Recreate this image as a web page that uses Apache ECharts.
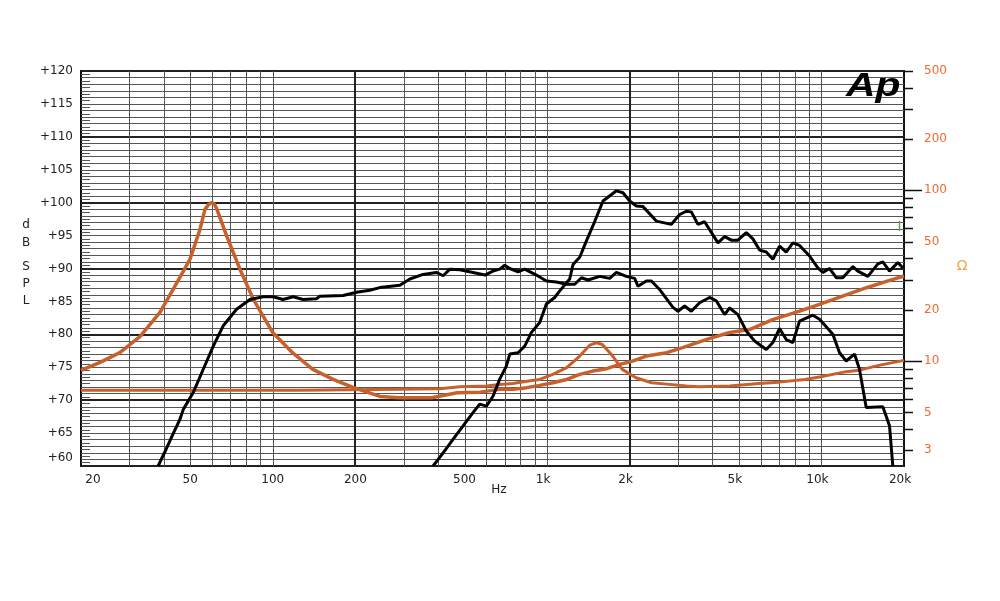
<!DOCTYPE html>
<html>
<head>
<meta charset="utf-8">
<script src="https://cdn.jsdelivr.net/npm/echarts@6/dist/echarts.min.js"></script>
<style>
html,body{margin:0;padding:0;background:#fff;}
#c{width:1000px;height:601px;}
</style>
</head>
<body>
<div id="c"></div>
<script>
// ---- data (frequency Hz, value) ----
const splWoofer = [[38.2,60],[40.5,62.2],[42.9,64.5],[45.9,67.1],[47.2,68.6],[51.3,71.15],[55.8,74.7],[60.7,78.2],[66,81.3],[73.8,83.8],[82.6,85.3],[92.3,85.7],[100.4,85.7],[109,85.3],[118.7,85.7],[129,85.3],[144.4,85.4],[148.5,85.8],[180.6,85.9],[202,86.4],[225.8,86.7],[245.6,87.1],[290.6,87.45],[316,88.4],[353,89.1],[395,89.4],[418,88.9],[442,89.9],[481,89.8],[537,89.4],[593,89.0],[635,89.6],[672,89.9],[701,90.5],[731,90.0],[784,89.5],[829,89.9],[914,89.0],[994,88.1],[1081,87.95],[1176,87.6],[1261,87.6],[1334,88.6],[1410,88.25],[1555,88.8],[1691,88.5],[1789,89.4],[1945,88.8],[2086,88.5],[2144,87.3],[2301,88.1],[2400,88.1],[2573,86.8],[2876,84.1],[3000,83.5],[3173,84.3],[3356,83.5],[3597,84.8],[3912,85.6],[4137,85.1],[4438,83.0],[4628,84.0],[4960,83.0],[5322,80.5],[5707,79.0],[6295,77.7],[6654,78.75],[7038,80.9],[7443,79.2],[7869,78.75],[8322,82.0],[9306,82.9],[9843,82.3],[11008,80.0],[11641,77.2],[12313,75.95],[13202,77.0],[13766,74.7],[14564,68.9],[16744,69.0],[17712,66.1],[18208,60]];
const splDriver = [[384,60],[418,62.0],[454,64.05],[494,66.1],[537,68.1],[568,69.4],[601,69.1],[635,70.6],[672,73.2],[711,75.2],[731,77.0],[784,77.2],[829,78.2],[877,80.3],[940,81.8],[994,84.6],[1066,85.6],[1112,86.6],[1209,88.4],[1243,90.6],[1315,91.7],[1391,94.2],[1470,96.5],[1599,100.25],[1789,101.8],[1891,101.5],[2000,100.25],[2116,99.5],[2237,99.4],[2502,97.2],[2838,96.7],[3042,98.2],[3217,98.7],[3356,98.6],[3547,96.7],[3751,97.1],[4195,93.9],[4438,94.85],[4693,94.3],[4960,94.3],[5322,95.45],[5626,94.5],[5951,92.8],[6295,92.5],[6654,91.4],[7038,93.4],[7443,92.5],[7869,93.9],[8322,93.5],[9052,91.9],[9704,90.1],[10121,89.4],[10706,90.0],[11324,88.6],[11968,88.6],[13020,90.3],[13575,89.6],[14766,88.8],[16058,90.7],[16744,91.0],[17712,89.6],[18987,90.9],[19800,90.1]];
// impedance (ohm)
const impWoofer = [[20,8.82],[23.5,9.83],[27.7,11.2],[32.8,13.9],[38.8,19.3],[44.8,28.9],[49.9,39.4],[54.3,59.1],[56.6,77.4],[58.5,83],[60,85],[61.3,83],[62.6,77.4],[68,53.8],[76,34.4],[85,23],[100,14.7],[118,11.2],[140,8.94],[166,7.81],[196,7.01],[246,6.21],[290,6.1],[380,6.1],[470,6.53],[570,6.58],[672,6.83],[750,6.83],[843,6.99],[940,7.21],[1050,7.47],[1180,7.81],[1315,8.36],[1467,8.74],[1650,9.03],[1840,9.56],[2050,10],[2300,10.7],[2730,11.2],[3120,12],[3820,13.4],[4630,14.7],[5470,15.3],[6640,17.5],[8320,19.6],[9840,21.5],[11940,24],[14600,26.9],[16700,28.8],[20000,31.5]];
const impDriver = [[20,6.74],[125,6.74],[290,6.83],[407,6.89],[480,7.08],[603,7.14],[672,7.3],[750,7.4],[843,7.63],[940,7.81],[1049,8.36],[1179,9.15],[1315,10.7],[1430,12.4],[1513,12.8],[1591,12.5],[1734,10.7],[1880,8.94],[2107,7.99],[2405,7.47],[2727,7.33],[3227,7.14],[3583,7.08],[4628,7.14],[5920,7.4],[6980,7.53],[8720,7.81],[9950,8.1],[12080,8.62],[13770,8.85],[16180,9.44],[20000,10.1]];
// axes
const freqGrid = [30,40,50,60,70,80,90,100,200,300,400,500,600,700,800,900,1000,2000,3000,4000,5000,6000,7000,8000,9000,10000];
const freqThick = [200,2000];
const freqTickValues = [20,50,100,200,500,1000,2000,5000,10000,20000];
const freqTickLabels = ['20','50','100','200','500','1k','2k','5k','10k','20k'];
const ohmTicks = [3,4,5,6,7,8,9,10,20,30,40,50,60,70,80,90,100,200,300,400,500];
const ohmLongTicks = [10,100];
const ohmLabels = [500,200,100,50,20,10,5,3];

(function () {
const FONT = 'DejaVu Sans';
const ORANGE = '#c8602c';
const LABEL_OR = '#ee6a2e';

const chart = echarts.init(document.getElementById('c'), null, {renderer:'canvas'});
const option = {
  animation: false,
  backgroundColor: '#fff',
  grid: {left:81, right:96, top:71, bottom:135, show:true, borderColor:'#111', borderWidth:2, backgroundColor:'#fff'},
  xAxis: {type:'log', logBase:10, min:20, max:20000,
    axisLine:{show:false}, axisTick:{show:false}, axisLabel:{show:false}, splitLine:{show:false}},
  yAxis: [
    {type:'value', min:60, max:120, interval:1, position:'left',
      axisLine:{show:false},
      axisTick:{show:false, inside:true},
      minorTick:{show:true, splitNumber:2, length:9, lineStyle:{color:'#555', width:1}},
      axisLabel:{margin:8, fontFamily:FONT, fontSize:12, color:'#222',
        formatter: v => (v % 5 === 0) ? (v === 60 ? '{lo|+60}' : '+' + v) : '',
        rich:{lo:{fontFamily:FONT, fontSize:12, color:'#222', padding:[0,0,16,0]}}},
      splitLine:{show:true, lineStyle:{color:'#555', width:1}}},
    {type:'value', min:60, max:120, interval:10, position:'left',
      axisLine:{show:false}, axisTick:{show:false}, axisLabel:{show:false},
      splitLine:{show:true, lineStyle:{color:'#222', width:2}}},
    {type:'log', logBase:10, min:2.43, max:500, position:'right', show:false,
      splitLine:{show:false}}
  ],
  series: [
    {name:'Z woofer', type:'line', yAxisIndex:2, data:impWoofer, showSymbol:false, symbol:'none',
      lineStyle:{color:ORANGE, width:3.5}, z:3},
    {name:'Z driver', type:'line', yAxisIndex:2, data:impDriver, showSymbol:false, symbol:'none',
      lineStyle:{color:ORANGE, width:3}, z:3},
    {name:'SPL woofer', type:'line', yAxisIndex:0, data:splWoofer, showSymbol:false, symbol:'none',
      lineStyle:{color:'#000', width:3}, z:4},
    {name:'SPL driver', type:'line', yAxisIndex:0, data:splDriver, showSymbol:false, symbol:'none',
      lineStyle:{color:'#000', width:3}, z:4}
  ]
};
chart.setOption(option);

const X = v => chart.convertToPixel({xAxisIndex:0}, v);
const Y0 = v => chart.convertToPixel({yAxisIndex:0}, v);
const YR = v => chart.convertToPixel({yAxisIndex:2}, v);
const pTop = Y0(120), pBottom = Y0(60), pRight = X(20000);
const g = [];
freqGrid.forEach(f => {
  const thick = freqThick.indexOf(f) >= 0;
  const x = thick ? Math.round(X(f)) : Math.round(X(f)) + 0.5;
  g.push({type:'line', silent:true, z:1, shape:{x1:x, y1:pTop, x2:x, y2:pBottom},
    style:{stroke: thick ? '#222' : '#555', lineWidth: thick ? 2 : 1}});
});
freqTickValues.forEach((f, i) => {
  let x = X(f);
  if (i === 0) x += 12;
  else if (f >= 1000) x -= 4;
  g.push({type:'text', silent:true, x:x, y:480,
    style:{text:freqTickLabels[i], fontFamily:FONT, fontSize:12, fill:'#222', align:'center', verticalAlign:'middle'}});
});
ohmTicks.forEach(v => {
  const y = Math.round(YR(v)) + 0.5;
  const len = ohmLongTicks.indexOf(v) >= 0 ? 18 : 9;
  g.push({type:'line', silent:true, z:5, shape:{x1:pRight, y1:y, x2:pRight + len, y2:y},
    style:{stroke:'#111', lineWidth:1.5}});
});
ohmLabels.forEach(v => {
  g.push({type:'text', silent:true, x:pRight + 20, y:YR(v),
    style:{text:String(v), fontFamily:FONT, fontSize:12, fill:LABEL_OR, align:'left', verticalAlign:'middle'}});
});
g.push({type:'text', silent:true, x:499, y:490,
  style:{text:'Hz', fontFamily:FONT, fontSize:12, fill:'#222', align:'center', verticalAlign:'middle'}});
const dbLetters = [['d',225],['B',243],['S',267],['P',284],['L',301]];
dbLetters.forEach(p => g.push({type:'text', silent:true, x:26, y:p[1],
  style:{text:p[0], fontFamily:FONT, fontSize:12, fill:'#222', align:'center', verticalAlign:'middle'}}));
g.push({type:'text', silent:true, x:962, y:266,
  style:{text:'Ω', fontFamily:FONT, fontSize:14, fill:'#f4a53c', align:'center', verticalAlign:'middle'}});
g.push({type:'text', silent:true, z:6, x:846, y:70, scaleX:1.2,
  style:{text:'Ap', fontFamily:'Liberation Sans', fontSize:34, fontWeight:'bold', fontStyle:'italic', fill:'#000', align:'left', verticalAlign:'top'}});
g.push({type:'line', silent:true, z:6, shape:{x1:899.5, y1:221, x2:899.5, y2:231}, style:{stroke:'#5aa84a', lineWidth:1.5}});
chart.setOption({graphic: g});
})();
</script>
</body>
</html>
